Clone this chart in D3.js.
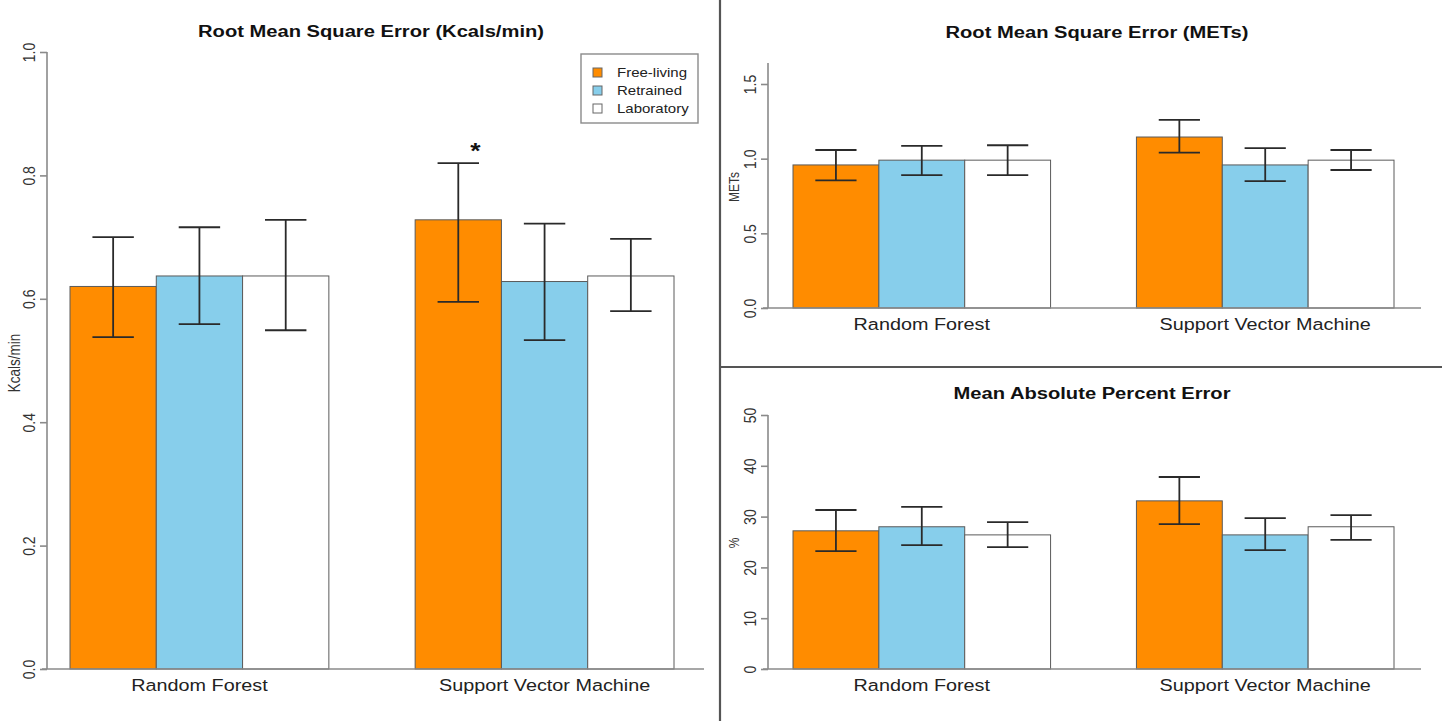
<!DOCTYPE html>
<html>
<head>
<meta charset="utf-8">
<script src="https://cdn.jsdelivr.net/npm/d3@7"></script>
<style>
  html, body { margin: 0; padding: 0; background: #fff; }
  svg { display: block; font-family: "Liberation Sans", Arial, sans-serif; }
</style>
</head>
<body>
<svg id="chart" width="1442" height="721"></svg>
<script>
// Shared categories and series
const categories = ["Random Forest", "Support Vector Machine"];
const seriesNames = ["Free-living", "Retrained", "Laboratory"];
const seriesColors = ["#FF8C00", "#87CEEB", "#FFFFFF"];

// RMSE in kcal/min: mean, lower and upper error-bar limits per [category][series]
const kcalMean  = [[0.62, 0.637, 0.637], [0.728, 0.628, 0.637]];
const kcalLower = [[0.538, 0.559, 0.549], [0.595, 0.533, 0.580]];
const kcalUpper = [[0.700, 0.716, 0.728], [0.820, 0.722, 0.697]];
const kcalTicks = [0.0, 0.2, 0.4, 0.6, 0.8, 1.0];

// RMSE in METs
const metMean  = [[0.958, 0.99, 0.99], [1.145, 0.958, 0.99]];
const metLower = [[0.855, 0.89, 0.89], [1.040, 0.850, 0.924]];
const metUpper = [[1.058, 1.085, 1.09], [1.260, 1.070, 1.058]];
const metTicks = [0.0, 0.5, 1.0, 1.5];

// Mean absolute percent error
const mapeMean  = [[27.2, 28.0, 26.4], [33.1, 26.4, 28.0]];
const mapeLower = [[23.2, 24.4, 24.0], [28.5, 23.4, 25.4]];
const mapeUpper = [[31.3, 31.9, 28.9], [37.8, 29.7, 30.3]];
const mapeTicks = [0, 10, 20, 30, 40, 50];

// the figure's lettering is drawn slightly wide
const SX = 1.2;

const svg = d3.select("#chart");

function wideText(sel, x, y, rotate) {
  return sel.attr("transform", `translate(${x},${y}) scale(${SX},1)` + (rotate ? " rotate(-90)" : ""));
}

function panel(cfg) {
  const g = svg.append("g");
  const y = d3.scaleLinear().domain(cfg.domain).range([cfg.bottom, cfg.top]);
  // 3 bars per group, one bar-width gap between groups
  const x = d3.scaleLinear().domain([0, 7]).range([cfg.barLeft, cfg.barRight]);
  const bw = x(1) - x(0);

  // title
  wideText(g.append("text"), cfg.titleX, cfg.titleY)
    .attr("text-anchor", "middle")
    .attr("font-size", 16.8).attr("font-weight", "bold").attr("fill", "#111")
    .text(cfg.title);

  // y axis
  const axis = d3.axisLeft(y).tickValues(cfg.ticks).tickSize(7).tickFormat(cfg.fmt);
  const ax = g.append("g").attr("transform", `translate(${cfg.axisX},0)`).call(axis);
  ax.select(".domain").remove();
  ax.append("line")
    .attr("x1", 0).attr("x2", 0)
    .attr("y1", y(cfg.domain[0])).attr("y2", y(cfg.axisTop))
    .attr("stroke", "#8a8a8a").attr("stroke-width", 1.6);
  ax.selectAll(".tick line").attr("stroke", "#8a8a8a").attr("stroke-width", 1.6);
  ax.selectAll(".tick text")
    .attr("x", 0).attr("y", 0).attr("dy", 0)
    .attr("transform", `translate(-12,0) scale(${SX},1) rotate(-90)`)
    .attr("font-size", 14).attr("fill", "#333")
    .attr("text-anchor", "middle");

  // y label
  wideText(g.append("text"), cfg.ylabX, cfg.ylabY, true)
    .attr("text-anchor", "middle").attr("font-size", cfg.ylabSize).attr("fill", "#333")
    .text(cfg.ylab);

  // bars
  const rows = [];
  categories.forEach((c, ci) => {
    seriesNames.forEach((s, si) => {
      rows.push({ ci, si, v: cfg.mean[ci][si], lo: cfg.lower[ci][si], hi: cfg.upper[ci][si] });
    });
  });
  g.selectAll("rect.bar").data(rows).join("rect")
    .attr("class", "bar")
    .attr("x", d => x(d.ci * 4 + d.si))
    .attr("width", bw)
    .attr("y", d => y(d.v))
    .attr("height", d => y(0) - y(d.v))
    .attr("fill", d => seriesColors[d.si])
    .attr("stroke", "#5a5a5a").attr("stroke-width", 1);

  // baseline
  g.append("line")
    .attr("x1", cfg.baseLeft).attr("x2", cfg.baseRight)
    .attr("y1", y(0)).attr("y2", y(0))
    .attr("stroke", "#8a8a8a").attr("stroke-width", 1.6);

  // error bars
  const capHalf = bw * 0.24;
  const cx = d => x(d.ci * 4 + d.si + 0.5);
  const eb = g.selectAll("g.err").data(rows).join("g").attr("class", "err")
    .attr("stroke", "#2a2a2a").attr("stroke-width", 1.8);
  eb.append("line")
    .attr("x1", cx).attr("x2", cx)
    .attr("y1", d => y(d.lo)).attr("y2", d => y(d.hi));
  eb.append("line")
    .attr("x1", d => cx(d) - capHalf).attr("x2", d => cx(d) + capHalf)
    .attr("y1", d => y(d.lo)).attr("y2", d => y(d.lo));
  eb.append("line")
    .attr("x1", d => cx(d) - capHalf).attr("x2", d => cx(d) + capHalf)
    .attr("y1", d => y(d.hi)).attr("y2", d => y(d.hi));

  // category labels
  g.selectAll("text.cat").data(categories).join("text")
    .attr("class", "cat")
    .attr("transform", (c, i) => `translate(${x(i * 4 + 1.5)},${y(0) + cfg.catDy}) scale(${SX},1)`)
    .attr("text-anchor", "middle").attr("font-size", 16.5).attr("fill", "#222")
    .text(c => c);

  return { g, x, y, bw };
}

// Left: RMSE kcal/min
const left = panel({
  title: "Root Mean Square Error (Kcals/min)", titleX: 371, titleY: 37,
  domain: [0, 1], axisTop: 1.0, top: 52, bottom: 669, ticks: kcalTicks,
  fmt: d3.format(".1f"), axisX: 47, ylab: "Kcals/min", ylabX: 20, ylabY: 363, ylabSize: 13.5,
  mean: kcalMean, lower: kcalLower, upper: kcalUpper,
  barLeft: 70, barRight: 674, baseLeft: 42, baseRight: 704, catDy: 22
});

// significance marker above SVM free-living
wideText(left.g.append("text"), left.x(4.5) + 17, left.y(kcalUpper[1][0]) - 5)
  .attr("text-anchor", "middle").attr("font-size", 22).attr("font-weight", "bold")
  .attr("fill", "#111").text("*");

// legend
const lg = left.g.append("g").attr("transform", "translate(581,54)");
lg.append("rect").attr("width", 117).attr("height", 69)
  .attr("fill", "#fff").attr("stroke", "#8a8a8a").attr("stroke-width", 1.4);
seriesNames.forEach((s, i) => {
  lg.append("rect").attr("x", 12).attr("y", 14 + i * 18).attr("width", 9).attr("height", 9)
    .attr("fill", seriesColors[i]).attr("stroke", "#666").attr("stroke-width", 1);
  wideText(lg.append("text"), 36, 23 + i * 18)
    .attr("font-size", 12.5).attr("fill", "#222").text(s);
});

// Top right: RMSE METs
panel({
  title: "Root Mean Square Error (METs)", titleX: 1097, titleY: 38,
  domain: [0, 1.5], axisTop: 1.64, top: 84, bottom: 308, ticks: metTicks,
  fmt: d3.format(".1f"), axisX: 768, ylab: "METs", ylabX: 739, ylabY: 187, ylabSize: 12,
  mean: metMean, lower: metLower, upper: metUpper,
  barLeft: 793, barRight: 1394, baseLeft: 763, baseRight: 1421, catDy: 22
});

// Bottom right: MAPE
panel({
  title: "Mean Absolute Percent Error", titleX: 1092, titleY: 399,
  domain: [0, 50], axisTop: 50, top: 415, bottom: 669, ticks: mapeTicks,
  fmt: d3.format("d"), axisX: 768, ylab: "%", ylabX: 739, ylabY: 543, ylabSize: 12,
  mean: mapeMean, lower: mapeLower, upper: mapeUpper,
  barLeft: 793, barRight: 1394, baseLeft: 763, baseRight: 1421, catDy: 22
});

// panel dividers
svg.append("line").attr("x1", 720).attr("x2", 720).attr("y1", 0).attr("y2", 721)
  .attr("stroke", "#555").attr("stroke-width", 2.2);
svg.append("line").attr("x1", 720).attr("x2", 1442).attr("y1", 367).attr("y2", 367)
  .attr("stroke", "#555").attr("stroke-width", 2.2);
</script>
</body>
</html>
